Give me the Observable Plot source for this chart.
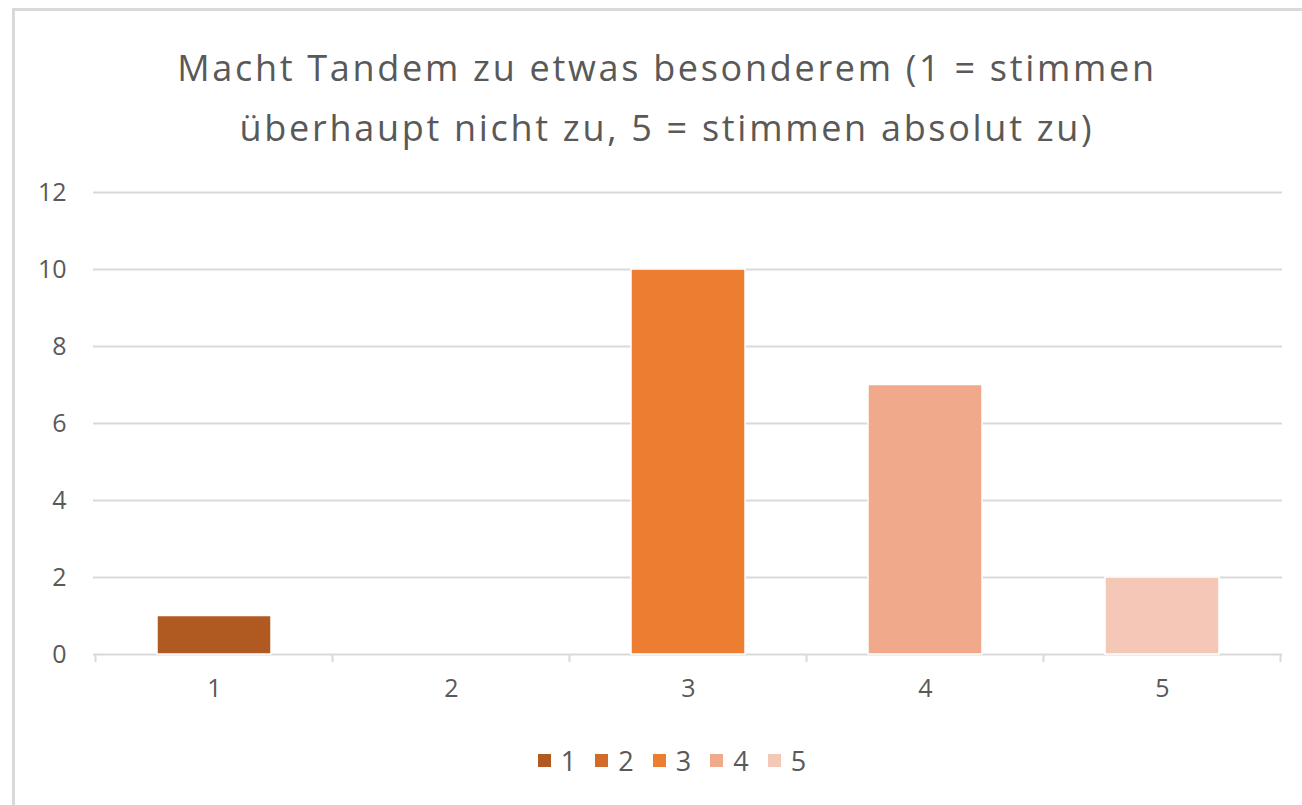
<!DOCTYPE html>
<html>
<head>
<meta charset="utf-8">
<script src="https://cdn.jsdelivr.net/npm/d3@7"></script>
<script src="https://cdn.jsdelivr.net/npm/@observablehq/plot@0.6"></script>
<style>
  html, body { margin: 0; padding: 0; background: #fff; }
  #wrap { position: relative; width: 1302px; height: 805px; overflow: hidden; font-family: "Open Sans", "Noto Sans", sans-serif; color: #595959; }
  #frame { position: absolute; left: 12px; top: 8px; width: 1300px; height: 810px; border-left: 3px solid #d9d9d9; border-top: 3px solid #d9d9d9; box-sizing: border-box; }
  #title { position: absolute; left: 16px; top: 38px; width: 1302px; text-align: center; font-size: 36px; letter-spacing: 2.7px; line-height: 60px; color: #595959; }
  #chart { position: absolute; left: 0; top: 150px; }
  #chart svg text { font-size: 25px !important; fill: #595959; }
  #legend { position: absolute; top: 742px; left: 0; width: 1344px; display: flex; justify-content: center; gap: 19px; font-size: 27px; color: #595959; }
  .li { display: flex; align-items: center; gap: 10px; }
  .sw { width: 13px; height: 13px; display: inline-block; }
</style>
</head>
<body>
<div id="wrap">
  <div id="frame"></div>
  <div id="title">Macht Tandem zu etwas besonderem (1 = stimmen<br>überhaupt nicht zu, 5 = stimmen absolut zu)</div>
  <div id="chart"></div>
  <div id="legend"></div>
</div>
<script>
const categories = ["1", "2", "3", "4", "5"];
const values = [1, 0, 10, 7, 2];
const colors = ["#B05A22", "#D26A2A", "#ED7D31", "#F1A98B", "#F4C7B6"];
const yTicks = [0, 2, 4, 6, 8, 10, 12];

const data = categories.map((c, i) => ({cat: c, value: values[i]}));

function boundaryTicks(index, scales, values, dimensions) {
  const x = scales.x, y = scales.y;
  const bw = x.bandwidth ? x.bandwidth() : 0;
  const step = x(categories[1]) - x(categories[0]);
  const pad = (step - bw) / 2;
  const xs = categories.map(c => x(c) - pad);
  xs.push(x(categories[categories.length - 1]) + bw + pad);
  const y0 = y(0);
  const g = document.createElementNS("http://www.w3.org/2000/svg", "g");
  for (const xv of xs) {
    const l = document.createElementNS("http://www.w3.org/2000/svg", "line");
    l.setAttribute("x1", xv); l.setAttribute("x2", xv);
    l.setAttribute("y1", y0); l.setAttribute("y2", y0 + 8);
    l.setAttribute("stroke", "#d9d9d9");
    l.setAttribute("stroke-width", 2);
    g.appendChild(l);
  }
  return g;
}

const plot = Plot.plot({
  width: 1302,
  height: 570,
  marginLeft: 93,
  marginRight: 20,
  marginTop: 42,
  marginBottom: 66,
  style: {fontFamily: "Open Sans, Noto Sans, sans-serif", fontSize: "25px", color: "#595959", background: "transparent"},
  x: {domain: categories, paddingInner: 0.52, paddingOuter: 0.26, label: null},
  y: {domain: [0, 12], label: null},
  color: {domain: categories, range: colors},
  marks: [
    Plot.ruleY(yTicks.filter(t => t > 0), {stroke: "#d9d9d9", strokeWidth: 2}),
    Plot.ruleY([0], {stroke: "#d9d9d9", strokeWidth: 2}),
    boundaryTicks,
    Plot.barY(data, {x: "cat", y: "value", fill: "cat", stroke: "#fff", strokeWidth: 1.5, filter: d => d.value > 0}),
    Plot.axisY({ticks: yTicks, tickSize: 0, tickPadding: 27, label: null}),
    Plot.axisX({tickSize: 0, tickPadding: 25, label: null})
  ]
});
document.getElementById("chart").appendChild(plot);

const legend = document.getElementById("legend");
categories.forEach((c, i) => {
  const item = document.createElement("div");
  item.className = "li";
  const sw = document.createElement("span");
  sw.className = "sw";
  sw.style.background = colors[i];
  const t = document.createElement("span");
  t.textContent = c;
  item.appendChild(sw); item.appendChild(t);
  legend.appendChild(item);
});
</script>
</body>
</html>
